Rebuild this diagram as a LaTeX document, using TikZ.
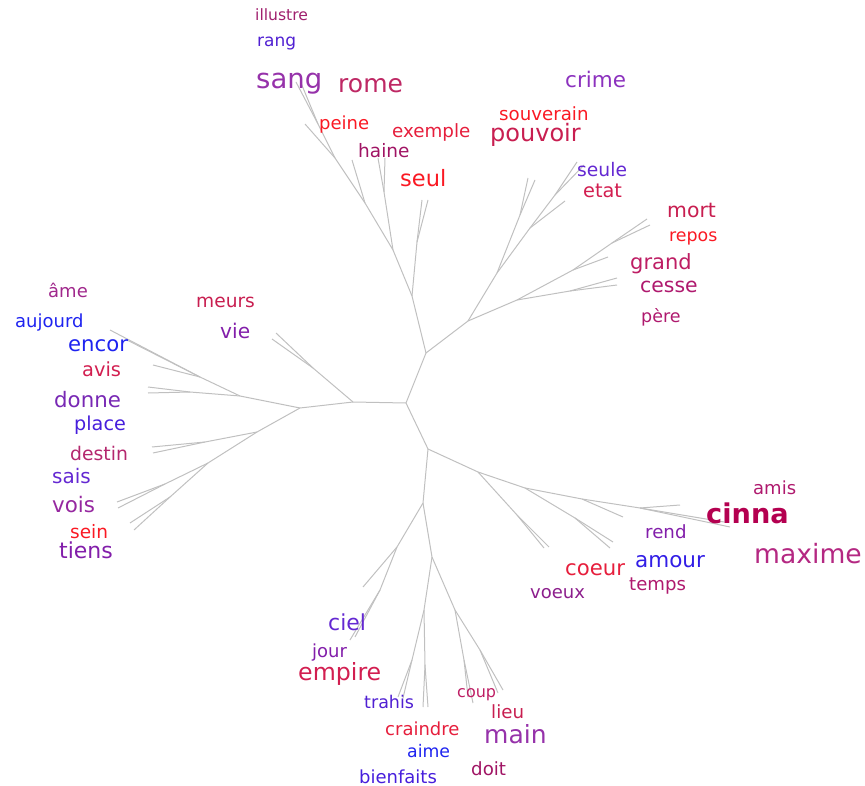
\documentclass[tikz,border=0pt]{standalone}
\usepackage{fontspec}
\setmainfont{DejaVu Sans}
\newfontfamily\dvbold{DejaVu Sans Bold}
\definecolor{edgegray}{RGB}{192,192,192}
\definecolor{cA}{RGB}{160,32,110}
\definecolor{cB}{RGB}{80,32,210}
\definecolor{cC}{RGB}{150,50,170}
\definecolor{cD}{RGB}{190,40,100}
\definecolor{cRed}{RGB}{250,25,35}
\definecolor{cE}{RGB}{230,30,60}
\definecolor{cF}{RGB}{160,20,100}
\definecolor{cG}{RGB}{140,50,190}
\definecolor{cH}{RGB}{200,30,80}
\definecolor{cI}{RGB}{100,40,210}
\definecolor{cJ}{RGB}{210,30,80}
\definecolor{cK}{RGB}{190,30,100}
\definecolor{cL}{RGB}{175,25,110}
\definecolor{cM}{RGB}{160,40,140}
\definecolor{cBlue}{RGB}{30,35,240}
\definecolor{cN}{RGB}{120,40,180}
\definecolor{cO}{RGB}{70,30,220}
\definecolor{cP}{RGB}{180,40,110}
\definecolor{cQ}{RGB}{150,40,160}
\definecolor{cR}{RGB}{130,30,170}
\definecolor{cS}{RGB}{180,0,80}
\definecolor{cT}{RGB}{180,40,130}
\definecolor{cU}{RGB}{50,30,230}
\definecolor{cV}{RGB}{140,30,140}
\tikzset{
  word/.style={inner sep=0pt, anchor=base west},
  fs/.style={font=\fontsize{#1pt}{#1pt}\selectfont},
  branch/.style={draw=edgegray, line width=1pt},
}
\begin{document}
\begin{tikzpicture}[x=1pt,y=-1pt]
\useasboundingbox (0,0) rectangle (865,786);
% ---------- tree coordinates ----------
\coordinate (c0) at (406,403);
\coordinate (t1) at (426,353);
\coordinate (b1) at (428,449);
\coordinate (l1) at (353,402);
% top
\coordinate (ta) at (412,296);
\coordinate (tseul) at (417,242);
\coordinate (ls1) at (422,200);
\coordinate (ls2) at (428,200);
\coordinate (tb) at (393,250);
\coordinate (thaine) at (384,192);
\coordinate (lh1) at (378,158);
\coordinate (lh2) at (385,158);
\coordinate (tc) at (365,203);
\coordinate (lp1) at (352,160);
\coordinate (td) at (335,158);
\coordinate (lp2) at (305,124);
\coordinate (tsang) at (318,124);
\coordinate (lsg1) at (296,82);
\coordinate (lsg2) at (301,83);
\coordinate (te) at (468,321);
\coordinate (tf) at (497,273);
\coordinate (tf2) at (520,215);
\coordinate (lpv1) at (528,178);
\coordinate (lpv2) at (535,180);
\coordinate (tg) at (530,228);
\coordinate (lse0) at (565,201);
\coordinate (tsl) at (555,195);
\coordinate (lse1) at (577,162);
\coordinate (lse2) at (584,165);
\coordinate (th) at (517,300);
\coordinate (thc) at (570,291);
\coordinate (lgr1) at (617,278);
\coordinate (lgr2) at (617,285);
\coordinate (ti) at (573,270);
\coordinate (lgr0) at (608,257);
\coordinate (tm) at (612,243);
\coordinate (lm1) at (647,219);
\coordinate (lm2) at (650,225);
% left
\coordinate (lv) at (313,368);
\coordinate (lvi1) at (272,339);
\coordinate (lvi2) at (276,333);
\coordinate (l2) at (300,408);
\coordinate (lu) at (240,396);
\coordinate (ldn) at (190,392);
\coordinate (ldo1) at (148,387);
\coordinate (ldo2) at (148,393);
\coordinate (lw) at (200,377);
\coordinate (len1) at (110,330);
\coordinate (len2) at (127,340);
\coordinate (lav) at (153,365);
\coordinate (ll) at (257,432);
\coordinate (lds) at (205,442);
\coordinate (lde1) at (152,447);
\coordinate (lde2) at (153,453);
\coordinate (lx) at (208,463);
\coordinate (lvo) at (165,484);
\coordinate (lvo1) at (117,502);
\coordinate (lvo2) at (118,508);
\coordinate (lti) at (170,497);
\coordinate (lti1) at (130,523);
\coordinate (lti2) at (134,530);
% right
\coordinate (r1) at (478,472);
\coordinate (rc) at (517,515);
\coordinate (rc1) at (544,548);
\coordinate (rc2) at (549,547);
\coordinate (r2) at (525,488);
\coordinate (r3) at (575,518);
\coordinate (ra1) at (613,542);
\coordinate (ra2) at (610,548);
\coordinate (r4) at (582,499);
\coordinate (rr1) at (623,517);
\coordinate (r5) at (640,508);
\coordinate (rci1) at (680,505);
\coordinate (rci2) at (730,527);
\coordinate (rci3) at (724,522);
% bottom
\coordinate (b2) at (423,503);
\coordinate (bc) at (397,547);
\coordinate (bc0) at (363,587);
\coordinate (bcl) at (380,590);
\coordinate (bci1) at (350,640);
\coordinate (bci2) at (355,637);
\coordinate (b3) at (432,557);
\coordinate (bl) at (424,610);
\coordinate (btr) at (412,660);
\coordinate (btr1) at (398,697);
\coordinate (btr2) at (403,698);
\coordinate (bcr) at (425,665);
\coordinate (bcr1) at (423,707);
\coordinate (bcr2) at (428,707);
\coordinate (br) at (455,610);
\coordinate (bco) at (464,660);
\coordinate (bco1) at (468,697);
\coordinate (bco2) at (473,703);
\coordinate (bli) at (480,650);
\coordinate (bli1) at (498,693);
\coordinate (bli2) at (503,690);
% ---------- edges ----------
\draw[branch] (c0) -- (t1);
\draw[branch] (c0) -- (b1);
\draw[branch] (c0) -- (l1);
\draw[branch] (t1) -- (ta);
\draw[branch] (ta) -- (tseul);
\draw[branch] (tseul) -- (ls1);
\draw[branch] (tseul) -- (ls2);
\draw[branch] (ta) -- (tb);
\draw[branch] (tb) -- (thaine);
\draw[branch] (thaine) -- (lh1);
\draw[branch] (thaine) -- (lh2);
\draw[branch] (tb) -- (tc);
\draw[branch] (tc) -- (lp1);
\draw[branch] (tc) -- (td);
\draw[branch] (td) -- (lp2);
\draw[branch] (td) -- (tsang);
\draw[branch] (tsang) -- (lsg1);
\draw[branch] (tsang) -- (lsg2);
\draw[branch] (t1) -- (te);
\draw[branch] (te) -- (tf);
\draw[branch] (tf) -- (tf2);
\draw[branch] (tf2) -- (lpv1);
\draw[branch] (tf2) -- (lpv2);
\draw[branch] (tf) -- (tg);
\draw[branch] (tg) -- (lse0);
\draw[branch] (tg) -- (tsl);
\draw[branch] (tsl) -- (lse1);
\draw[branch] (tsl) -- (lse2);
\draw[branch] (te) -- (th);
\draw[branch] (th) -- (thc);
\draw[branch] (thc) -- (lgr1);
\draw[branch] (thc) -- (lgr2);
\draw[branch] (th) -- (ti);
\draw[branch] (ti) -- (lgr0);
\draw[branch] (ti) -- (tm);
\draw[branch] (tm) -- (lm1);
\draw[branch] (tm) -- (lm2);
\draw[branch] (l1) -- (lv);
\draw[branch] (lv) -- (lvi1);
\draw[branch] (lv) -- (lvi2);
\draw[branch] (l1) -- (l2);
\draw[branch] (l2) -- (lu);
\draw[branch] (lu) -- (ldn);
\draw[branch] (ldn) -- (ldo1);
\draw[branch] (ldn) -- (ldo2);
\draw[branch] (lu) -- (lw);
\draw[branch] (lw) -- (len1);
\draw[branch] (lw) -- (len2);
\draw[branch] (lw) -- (lav);
\draw[branch] (l2) -- (ll);
\draw[branch] (ll) -- (lds);
\draw[branch] (lds) -- (lde1);
\draw[branch] (lds) -- (lde2);
\draw[branch] (ll) -- (lx);
\draw[branch] (lx) -- (lvo);
\draw[branch] (lvo) -- (lvo1);
\draw[branch] (lvo) -- (lvo2);
\draw[branch] (lx) -- (lti);
\draw[branch] (lti) -- (lti1);
\draw[branch] (lti) -- (lti2);
\draw[branch] (b1) -- (r1);
\draw[branch] (r1) -- (rc);
\draw[branch] (rc) -- (rc1);
\draw[branch] (rc) -- (rc2);
\draw[branch] (r1) -- (r2);
\draw[branch] (r2) -- (r3);
\draw[branch] (r3) -- (ra1);
\draw[branch] (r3) -- (ra2);
\draw[branch] (r2) -- (r4);
\draw[branch] (r4) -- (rr1);
\draw[branch] (r4) -- (r5);
\draw[branch] (r5) -- (rci1);
\draw[branch] (r5) -- (rci2);
\draw[branch] (r5) -- (rci3);
\draw[branch] (b1) -- (b2);
\draw[branch] (b2) -- (bc);
\draw[branch] (bc) -- (bc0);
\draw[branch] (bc) -- (bcl);
\draw[branch] (bcl) -- (bci1);
\draw[branch] (bcl) -- (bci2);
\draw[branch] (b2) -- (b3);
\draw[branch] (b3) -- (bl);
\draw[branch] (bl) -- (btr);
\draw[branch] (btr) -- (btr1);
\draw[branch] (btr) -- (btr2);
\draw[branch] (bl) -- (bcr);
\draw[branch] (bcr) -- (bcr1);
\draw[branch] (bcr) -- (bcr2);
\draw[branch] (b3) -- (br);
\draw[branch] (br) -- (bco);
\draw[branch] (bco) -- (bco1);
\draw[branch] (bco) -- (bco2);
\draw[branch] (br) -- (bli);
\draw[branch] (bli) -- (bli1);
\draw[branch] (bli) -- (bli2);
% ---------- words ----------
% top
\node[word, fs=15.6, text=cA] (illustre) at (255,21) {illustre};
\node[word, fs=17, text=cB] (rang) at (257,47) {rang};
\node[word, fs=27.5, text=cC] (sang) at (256,89) {sang};
\node[word, fs=25, text=cD] (rome) at (338,93) {rome};
\node[word, fs=18, text=cRed] (peine) at (319,130) {peine};
\node[word, fs=18.3, text=cE] (exemple) at (392,138) {exemple};
\node[word, fs=18.5, text=cF] (haine) at (358,158) {haine};
\node[word, fs=22.5, text=cRed] (seul) at (400,187) {seul};
\node[word, fs=21.5, text=cG] (crime) at (565,88) {crime};
\node[word, fs=18.2, text=cRed] (souverain) at (499,121) {souverain};
\node[word, fs=24, text=cH] (pouvoir) at (490,142) {pouvoir};
\node[word, fs=18.7, text=cI] (seule) at (577,177) {seule};
\node[word, fs=19.3, text=cJ] (etat) at (583,198) {etat};
\node[word, fs=20.4, text=cH] (mort) at (667,218) {mort};
\node[word, fs=17.4, text=cRed] (repos) at (669,242) {repos};
\node[word, fs=21, text=cK] (grand) at (630,270) {grand};
\node[word, fs=20.4, text=cL] (cesse) at (640,293) {cesse};
\node[word, fs=17.5, text=cL] (pere) at (641,323) {père};
% left
\node[word, fs=18, text=cM] (ame) at (48,298) {âme};
\node[word, fs=18, text=cBlue] (aujourd) at (15,327) {aujourd};
\node[word, fs=21.2, text=cBlue] (encor) at (68,352) {encor};
\node[word, fs=19.4, text=cJ] (avis) at (82,376) {avis};
\node[word, fs=21.3, text=cN] (donne) at (54,407) {donne};
\node[word, fs=19.2, text=cO] (place) at (74,430) {place};
\node[word, fs=18.8, text=cP] (destin) at (70,460) {destin};
\node[word, fs=20, text=cI] (sais) at (52,483) {sais};
\node[word, fs=21.4, text=cQ] (vois) at (52,512) {vois};
\node[word, fs=18.5, text=cRed] (sein) at (70,538) {sein};
\node[word, fs=22, text=cR] (tiens) at (59,558) {tiens};
\node[word, fs=18.6, text=cH] (meurs) at (196,308) {meurs};
\node[word, fs=20.2, text=cR] (vie) at (220,338) {vie};
% right
\node[word, fs=18, text=cL] (amis) at (753,494) {amis};
\node[word, fs=27.2, text=cS, font=\fontsize{27.2pt}{27.2pt}\dvbold] (cinna) at (706,523) {cinna};
\node[word, fs=26.6, text=cT] (maxime) at (754,563) {maxime};
\node[word, fs=18.2, text=cR] (rend) at (645,538) {rend};
\node[word, fs=21.5, text=cU] (amour) at (635,567) {amour};
\node[word, fs=21.2, text=cE] (coeur) at (565,575) {coeur};
\node[word, fs=18.1, text=cL] (temps) at (629,590) {temps};
\node[word, fs=18, text=cV] (voeux) at (530,598) {voeux};
% bottom
\node[word, fs=22, text=cI] (ciel) at (328,630) {ciel};
\node[word, fs=18, text=cR] (jour) at (312,657) {jour};
\node[word, fs=23.7, text=cJ] (empire) at (298,680) {empire};
\node[word, fs=17.5, text=cB] (trahis) at (364,708) {trahis};
\node[word, fs=18, text=cE] (craindre) at (385,735) {craindre};
\node[word, fs=17.3, text=cBlue] (aime) at (407,757) {aime};
\node[word, fs=18, text=cO] (bienfaits) at (359,783) {bienfaits};
\node[word, fs=16, text=cK] (coup) at (457,697) {coup};
\node[word, fs=18.2, text=cH] (lieu) at (491,718) {lieu};
\node[word, fs=25, text=cC] (main) at (484,743) {main};
\node[word, fs=18.2, text=cF] (doit) at (471,775) {doit};
\end{tikzpicture}
\end{document}
